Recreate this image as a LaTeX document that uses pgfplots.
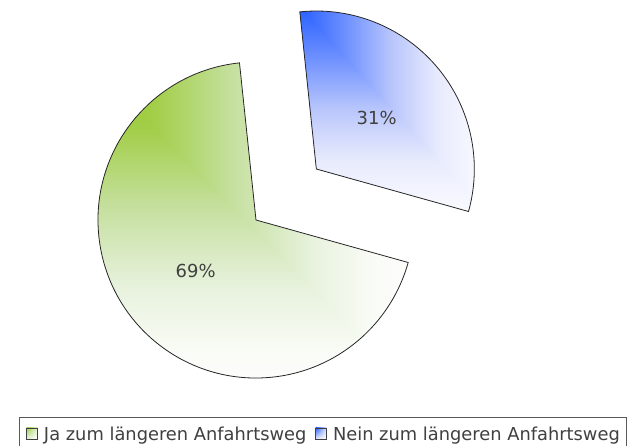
\documentclass[border=0pt]{standalone}
\usepackage{fontspec}
\setmainfont{DejaVu Sans}
\usepackage{pgfplots}
\usepackage{pgfplotstable}
\usetikzlibrary{shadings}
\pgfplotsset{compat=1.18}

\definecolor{labelgray}{RGB}{64,64,64}
\definecolor{g0}{RGB}{150,200,50}
\definecolor{g1}{RGB}{162,206,72}
\definecolor{g2}{RGB}{198,224,160}
\definecolor{g3}{RGB}{232,242,222}
\definecolor{g4}{RGB}{250,252,247}
\definecolor{g5}{RGB}{253,253,252}
\definecolor{b0}{RGB}{40,95,255}
\definecolor{b1}{RGB}{110,145,255}
\definecolor{b2}{RGB}{185,198,252}
\definecolor{b3}{RGB}{232,235,253}
\definecolor{b4}{RGB}{250,250,255}

% rectangular "from corner" gradient: horizontal part (t = 25bp + 50bp*t)
\pgfdeclarehorizontalshading{greenH}{100bp}{color(0bp)=(g0); color(25bp)=(g0); color(35bp)=(g1); color(47.5bp)=(g2); color(60bp)=(g3); color(70bp)=(g4); color(75bp)=(g5); color(100bp)=(g5)}
\pgfdeclareverticalshading{greenV}{100bp}{color(0bp)=(g5); color(25bp)=(g5); color(30bp)=(g4); color(40bp)=(g3); color(52.5bp)=(g2); color(65bp)=(g1); color(75bp)=(g0); color(100bp)=(g0)}
\pgfdeclarehorizontalshading{blueH}{100bp}{color(0bp)=(b0); color(25bp)=(b0); color(37.5bp)=(b1); color(50bp)=(b2); color(62.5bp)=(b3); color(75bp)=(b4); color(100bp)=(b4)}
\pgfdeclareverticalshading{blueV}{100bp}{color(0bp)=(b4); color(25bp)=(b4); color(37.5bp)=(b3); color(50bp)=(b2); color(62.5bp)=(b1); color(75bp)=(b0); color(100bp)=(b0)}

\tikzset{
  rectgrad/.style={path picture={
    \shade[shading=#1H] (path picture bounding box.south west) rectangle (path picture bounding box.north east);
    \shade[shading=#1V] (path picture bounding box.north west) -- (path picture bounding box.south west) -- (path picture bounding box.south east) -- cycle;
  }},
  wedge/.style={line width=0.8bp, draw=black!85},
}

\pgfplotstableread{
label value
Ja 69
Nein 31
}\piedata

\begin{document}
\begin{tikzpicture}
\pgfplotstablegetelem{0}{value}\of\piedata \let\va=\pgfplotsretval
\pgfplotstablegetelem{1}{value}\of\piedata \let\vb=\pgfplotsretval
\pgfmathsetmacro{\R}{158}
\pgfmathsetmacro{\startang}{96}
\pgfmathsetmacro{\angA}{\startang+3.6*\va}
\pgfmathsetmacro{\angB}{\angA+3.6*\vb}
\pgfmathsetmacro{\midA}{(\startang+\angA)/2}
\pgfmathsetmacro{\midB}{(\angA+\angB)/2}
\pgfmathsetmacro{\cx}{256}
\pgfmathsetmacro{\cy}{220}
\pgfmathsetmacro{\explode}{79}
\pgfmathsetmacro{\bx}{\cx+\explode*cos(\midB)}
\pgfmathsetmacro{\by}{\cy-\explode*sin(\midB)}
\begin{axis}[
  name=ax,
  scale only axis, width=630bp, height=445bp,
  xmin=0, xmax=630, ymin=0, ymax=445, y dir=reverse,
  hide axis, clip=false,
  legend columns=2,
  legend style={
    at={(axis cs:19,417)}, anchor=north west,
    draw=black!65, line width=0.8bp,
    inner xsep=7bp, inner ysep=10bp,
    font=\fontsize{17.9}{21}\selectfont,
    nodes={inner sep=0pt, text=labelgray},
    /tikz/every odd column/.append style={column sep=6bp},
    /tikz/every even column/.append style={column sep=9bp},
  },
]
\addlegendimage{legend image code/.code={\shade[line width=0.6bp, draw=black!75, upper left=g1, upper right=g3, lower left=g3, lower right=white] (0bp,-4bp) rectangle (11bp,7bp);}}
\addlegendentry{Ja zum längeren Anfahrtsweg}
\addlegendimage{legend image code/.code={\shade[line width=0.6bp, draw=black!75, upper left=b0, upper right=b3, lower left=b3, lower right=white] (0bp,-4bp) rectangle (11bp,7bp);}}
\addlegendentry{Nein zum längeren Anfahrtsweg}

\draw[wedge, rectgrad=green] (axis cs:\cx,\cy) -- ++(\startang:\R bp) arc[start angle=\startang, end angle=\angA, radius=\R bp] -- cycle;
\draw[wedge, rectgrad=blue] (axis cs:\bx,\by) -- ++(\angA:\R bp) arc[start angle=\angA, end angle=\angB, radius=\R bp] -- cycle;

\path (axis cs:\cx,\cy) ++(\midA:0.5*\R bp) node[text=labelgray, font=\fontsize{18}{21}\selectfont] {\va\%};
\path (axis cs:\bx,\by) ++(\midB:0.5*\R bp) node[text=labelgray, font=\fontsize{18}{21}\selectfont] {\vb\%};
\end{axis}
\pgfresetboundingbox
\path (ax.south west) rectangle (ax.north east);
\end{tikzpicture}
\end{document}
